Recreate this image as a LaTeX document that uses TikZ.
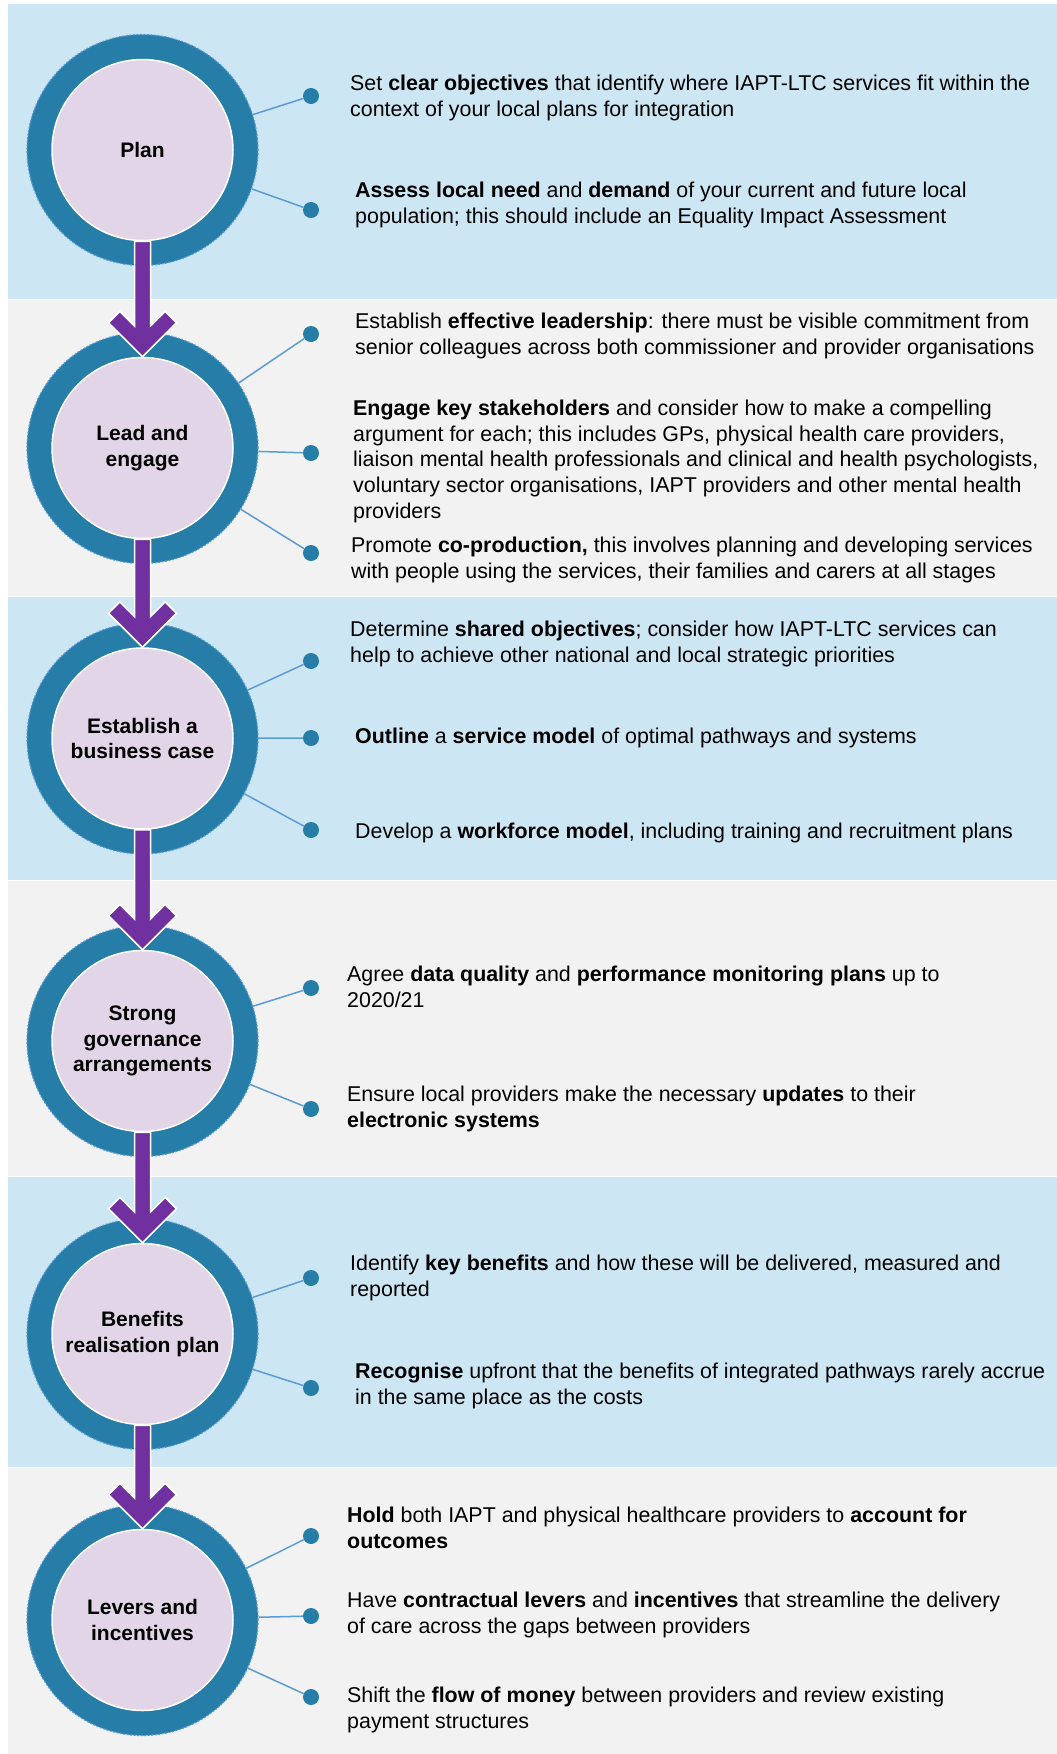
\documentclass[tikz,border=0pt]{standalone}
\usepackage{fontspec}
\setmainfont{Liberation Sans}
\usetikzlibrary{calc}
\definecolor{bandblue}{RGB}{205,230,243}
\definecolor{bandgrey}{RGB}{242,242,242}
\definecolor{ringblue}{RGB}{37,125,168}
\definecolor{ringedge}{RGB}{91,155,213}
\definecolor{innerfill}{RGB}{225,213,231}
\definecolor{arrowpurple}{RGB}{112,48,160}
\definecolor{connblue}{RGB}{91,155,213}
\tikzset{
  ring/.style={circle, fill=ringblue, draw=ringedge, line width=1.2pt, dash pattern=on 2pt off 1.5pt, minimum size=231pt, inner sep=0pt},
  stage/.style={circle, fill=innerfill, draw=white, line width=1.5pt, minimum size=181pt, inner sep=0pt, align=center, font=\fontsize{21}{25.7}\selectfont\bfseries},
  dotn/.style={circle, fill=ringblue, minimum size=16pt, inner sep=0pt},
  conn/.style={draw=connblue, line width=1.5pt},
  txt/.style={anchor=base west, align=left, inner sep=0pt, font=\fontsize{21.4}{25.7}\selectfont},
  flow/.style={fill=arrowpurple, draw=white, line width=1.5pt, line join=miter},
}
\newcommand\flowarrow[2]{%
  \filldraw[flow] ($(#1.south)+(-8,0)$) -- ($(#2.north)+(-8,-30.6)$) -- ($(#2.north)+(-22.7,-45.3)$) -- ($(#2.north)+(-34,-34)$) -- (#2.north) -- ($(#2.north)+(34,-34)$) -- ($(#2.north)+(22.7,-45.3)$) -- ($(#2.north)+(8,-30.6)$) -- ($(#1.south)+(8,0)$) -- cycle;}
\begin{document}
\begin{tikzpicture}[x=1pt,y=-1pt]
\useasboundingbox (0,0) rectangle (1057,1754);
\fill[white] (0,0) rectangle (1057,1754);
% bands
\fill[bandblue] (8,4) rectangle (1057,298.8);
\fill[bandgrey] (8,299.8) rectangle (1057,595.5);
\fill[bandblue] (8,596.5) rectangle (1057,880.2);
\fill[bandgrey] (8,881.2) rectangle (1057,1175.8);
\fill[bandblue] (8,1176.8) rectangle (1057,1467);
\fill[bandgrey] (8,1468) rectangle (1057,1754);
% rings and stages
\node[ring] (r1) at (142.5,150) {};
\node[stage] (c1) at (142.5,150) {Plan};
\node[ring] (r2) at (142.5,448) {};
\node[stage] (c2) at (142.5,448) {Lead and\\engage};
\node[ring] (r3) at (142.5,738.5) {};
\node[stage] (c3) at (142.5,738.5) {Establish a\\business case};
\node[ring] (r4) at (142.5,1041) {};
\node[stage] (c4) at (142.5,1041) {Strong\\governance\\arrangements};
\node[ring] (r5) at (142.5,1334) {};
\node[stage] (c5) at (142.5,1334) {Benefits\\realisation plan};
\node[ring] (r6) at (142.5,1620) {};
\node[stage] (c6) at (142.5,1620) {Levers and\\incentives};
% dots
\node[dotn] (d11) at (311,96) {};
\node[dotn] (d12) at (311,210) {};
\node[dotn] (d21) at (311,334) {};
\node[dotn] (d22) at (311,453) {};
\node[dotn] (d23) at (311,553) {};
\node[dotn] (d31) at (311,661) {};
\node[dotn] (d32) at (311,738) {};
\node[dotn] (d33) at (311,830) {};
\node[dotn] (d41) at (311,988) {};
\node[dotn] (d42) at (311,1109) {};
\node[dotn] (d51) at (311,1278) {};
\node[dotn] (d52) at (311,1388) {};
\node[dotn] (d61) at (311,1536) {};
\node[dotn] (d62) at (311,1616) {};
\node[dotn] (d63) at (311,1697) {};
% connectors
\foreach \r/\d in {r1/d11,r1/d12,r2/d21,r2/d22,r2/d23,r3/d31,r3/d32,r3/d33,r4/d41,r4/d42,r5/d51,r5/d52,r6/d61,r6/d62,r6/d63}
  \draw[conn] (\r) -- (\d);
% texts (anchor = baseline of last line)
\node[txt] (t11) at (350,116.2) {Set \textbf{clear objectives} that identify where IAPT-LTC services fit within the\\context of your local plans for integration};
\node[txt] (t12) at (355,223.2) {\textbf{Assess local need} and \textbf{demand} of your current and future local\\population; this should include an Equality Impact Assessment};
\node[txt] (t21) at (355,354.2) {Establish \textbf{effective leadership}: there must be visible commitment from\\senior colleagues across both commissioner and provider organisations};
\node[txt] (t22) at (353,518.3) {\textbf{Engage key stakeholders} and consider how to make a compelling\\argument for each; this includes GPs, physical health care providers,\\liaison mental health professionals and clinical and health psychologists,\\voluntary sector organisations, IAPT providers and other mental health\\providers};
\node[txt] (t23) at (351,578.2) {Promote \textbf{co-production,} this involves planning and developing services\\with people using the services, their families and carers at all stages};
\node[txt] (t31) at (350,662.2) {Determine \textbf{shared objectives}; consider how IAPT-LTC services can\\help to achieve other national and local strategic priorities};
\node[txt] (t32) at (355,743.5) {\textbf{Outline} a \textbf{service model} of optimal pathways and systems};
\node[txt] (t33) at (355,838.5) {Develop a \textbf{workforce model}, including training and recruitment plans};
\node[txt] (t41) at (347,1007.2) {Agree \textbf{data quality} and \textbf{performance monitoring plans} up to\\2020/21};
\node[txt] (t42) at (347,1127.2) {Ensure local providers make the necessary \textbf{updates} to their\\\textbf{electronic systems}};
\node[txt] (t51) at (350,1296.2) {Identify \textbf{key benefits} and how these will be delivered, measured and\\reported};
\node[txt] (t52) at (355,1404.2) {\textbf{Recognise} upfront that the benefits of integrated pathways rarely accrue\\in the same place as the costs};
\node[txt] (t61) at (347,1548.2) {\textbf{Hold} both IAPT and physical healthcare providers to \textbf{account for}\\\textbf{outcomes}};
\node[txt] (t62) at (347,1633.2) {Have \textbf{contractual levers} and \textbf{incentives} that streamline the delivery\\of care across the gaps between providers};
\node[txt] (t63) at (347,1728.2) {Shift the \textbf{flow of money} between providers and review existing\\payment structures};
% arrows
\flowarrow{c1}{c2}
\flowarrow{c2}{c3}
\flowarrow{c3}{c4}
\flowarrow{c4}{c5}
\flowarrow{c5}{c6}
\end{tikzpicture}
\end{document}
